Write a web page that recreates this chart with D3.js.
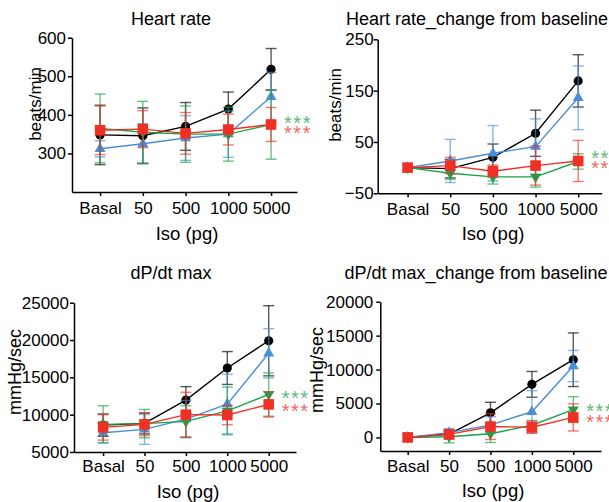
<!DOCTYPE html>
<html>
<head>
<meta charset="utf-8">
<script src="https://cdn.jsdelivr.net/npm/d3@7"></script>
<style>
  body { margin: 0; background: #fff; }
  svg { display: block; font-family: "Liberation Sans", Arial, sans-serif; }
  .axis path, .axis line { stroke: #000; stroke-width: 1.5; }
  .axis text { font-size: 17px; fill: #000; }
</style>
</head>
<body>
<div id="chart"></div>
<script>
const doses = ["Basal", "50", "500", "1000", "5000"];

// Heart rate (beats/min)
const hrBlack = [348, 346, 370, 415, 518];
const hrBlackErr = [77, 72, 62, 44, 54];
const hrBlue = [312, 325, 340, 350, 447];
const hrBlueErr = [21, 52, 58, 60, 63];
const hrGreen = [365, 355, 350, 350, 375];
const hrGreenErr = [89, 80, 73, 70, 90];
const hrRed = [360, 363, 352, 362, 375];
const hrRedErr = [63, 48, 54, 40, 44];

// Heart rate, change from baseline
const hrcBlack = [0, -2, 20, 67, 169];
const hrcBlackErr = [0, 18, 26, 45, 51];
const hrcBlue = [0, 13, 28, 41, 136];
const hrcBlueErr = [0, 42, 54, 54, 62];
const hrcGreen = [0, -11, -18, -18, 12];
const hrcGreenErr = [0, 12, 14, 20, 15];
const hrcRed = [0, 4, -7, 4, 13];
const hrcRedErr = [0, 16, 12, 38, 40];

// dP/dt max (mmHg/sec)
const dpBlack = [8600, 8830, 11960, 16250, 19900];
const dpBlackErr = [1500, 1400, 1800, 2200, 4700];
const dpBlue = [7570, 8030, 9400, 11420, 18220];
const dpBlueErr = [1300, 2000, 2500, 4000, 3300];
const dpGreen = [8700, 8800, 9100, 10500, 12700];
const dpGreenErr = [2500, 1900, 2100, 3200, 2900];
const dpRed = [8300, 8700, 10000, 9950, 11380];
const dpRedErr = [1700, 1500, 3000, 1300, 1700];

// dP/dt max, change from baseline
const dpcBlack = [0, 500, 3630, 7820, 11450];
const dpcBlackErr = [0, 400, 1550, 1900, 3950];
const dpcBlue = [0, 700, 1850, 3780, 10520];
const dpcBlueErr = [0, 600, 1200, 3100, 2300];
const dpcGreen = [0, 100, 550, 1800, 4100];
const dpcGreenErr = [600, 900, 1300, 700, 1900];
const dpcRed = [0, 450, 1600, 1500, 2950];
const dpcRedErr = [0, 700, 1900, 900, 2000];

// significance marks next to the 5000 pg point (green, red), in data units
const sigText = "***";
const hrSig = [391, 365];
const hrcSig = [28, 8];
const dpSig = [12850, 11150];
const dpcSig = [4500, 2950];

const colors = { black: "#000000", blue: "#4a8ed6", green: "#1ba34b", red: "#ee3124" };
const shapes = { black: d3.symbolCircle, blue: d3.symbolTriangle, green: d3.symbolTriangle, red: d3.symbolSquare };
const sizes = { black: 66, blue: 52, green: 52, red: 112 };

const panels = [
    { title: "Heart rate", titleX: 171, titleY: 25, ylabel: "beats/min", ylabelSize: 17, ylabelX: 41, ylabelY: 104,
      x0: 72, x1: 297, pad: 0.632, align: 0.52, yDomain: [200, 600], yRange: [192, 37.7],
      yTicks: [300, 400, 500, 600], yPad: 2, xPad: 6, xlabelX: 187, xlabelY: 240,
      series: [["black", hrBlack, hrBlackErr], ["blue", hrBlue, hrBlueErr], ["green", hrGreen, hrGreenErr], ["red", hrRed, hrRedErr]],
      sig: hrSig },
    { title: "Heart rate_change from baseline", titleX: 477, titleY: 25, ylabel: "beats/min", ylabelSize: 17, ylabelX: 341, ylabelY: 105,
      x0: 377.7, x1: 601.7, pad: 0.626, align: 0.56, yDomain: [-50, 250], yRange: [193.3, 39.3],
      yTicks: [-50, 50, 150, 250], yPad: 0, xPad: 5.5, xlabelX: 493, xlabelY: 240,
      series: [["black", hrcBlack, hrcBlackErr], ["blue", hrcBlue, hrcBlueErr], ["green", hrcGreen, hrcGreenErr], ["red", hrcRed, hrcRedErr]],
      sig: hrcSig },
    { title: "dP/dt max", titleX: 171, titleY: 279, ylabel: "mmHg/sec", ylabelSize: 18, ylabelX: 21, ylabelY: 372,
      x0: 74, x1: 296, pad: 0.681, align: 0.516, yDomain: [5000, 25000], yRange: [452, 302.7],
      yTicks: [5000, 10000, 15000, 20000, 25000], yPad: 1, xPad: 4, xlabelX: 188, xlabelY: 498,
      series: [["black", dpBlack, dpBlackErr], ["blue", dpBlue, dpBlueErr], ["green", dpGreen, dpGreenErr], ["red", dpRed, dpRedErr]],
      sig: dpSig },
    { title: "dP/dt max_change from baseline", titleX: 476, titleY: 279, ylabel: "mmHg/sec", ylabelSize: 18, ylabelX: 323, ylabelY: 370,
      x0: 380.3, x1: 601, pad: 0.665, align: 0.497, yDomain: [-2000, 20000], yRange: [451, 301.7],
      yTicks: [0, 5000, 10000, 15000, 20000], yPad: 3, xPad: 4.5, xlabelX: 493, xlabelY: 497,
      series: [["black", dpcBlack, dpcBlackErr], ["blue", dpcBlue, dpcBlueErr], ["green", dpcGreen, dpcGreenErr], ["red", dpcRed, dpcRedErr]],
      sig: dpcSig }
];

const svg = d3.select("#chart")
    .append("svg")
    .attr("width", 609)
    .attr("height", 502);

function drawPanel(p) {
    const g = svg.append("g");

    const x = d3.scalePoint()
        .domain(doses)
        .range([p.x0, p.x1])
        .padding(p.pad)
        .align(p.align);

    const y = d3.scaleLinear()
        .domain(p.yDomain)
        .range(p.yRange);

    g.append("g")
        .attr("class", "axis")
        .attr("transform", `translate(0,${p.yRange[0]})`)
        .call(d3.axisBottom(x).tickSize(4).tickSizeOuter(0).tickPadding(p.xPad));

    g.append("g")
        .attr("class", "axis")
        .attr("transform", `translate(${p.x0},0)`)
        .call(d3.axisLeft(y).tickValues(p.yTicks).tickFormat(d3.format("d"))
            .tickSize(4).tickSizeOuter(0).tickPadding(p.yPad));

    p.series.forEach(([name, values, errs]) => {
        const col = colors[name];
        const data = doses.map((d, i) => ({ dose: d, v: values[i], e: errs[i] }));
        const withErr = data.filter(d => d.e > 0);

        const eb = g.append("g")
            .attr("stroke", col)
            .attr("stroke-width", 1.4)
            .attr("stroke-opacity", 0.65);

        eb.selectAll(".stem")
            .data(withErr)
            .enter()
            .append("line")
            .attr("x1", d => x(d.dose))
            .attr("x2", d => x(d.dose))
            .attr("y1", d => y(d.v - d.e))
            .attr("y2", d => y(d.v + d.e));

        [-1, 1].forEach(s => {
            eb.selectAll(".cap" + s)
                .data(withErr)
                .enter()
                .append("line")
                .attr("x1", d => x(d.dose) - 5.5)
                .attr("x2", d => x(d.dose) + 5.5)
                .attr("y1", d => y(d.v + s * d.e))
                .attr("y2", d => y(d.v + s * d.e));
        });

        const line = d3.line()
            .x(d => x(d.dose))
            .y(d => y(d.v));

        g.append("path")
            .datum(data)
            .attr("fill", "none")
            .attr("stroke", col)
            .attr("stroke-width", 1.4)
            .attr("d", line);

        const sym = d3.symbol().type(shapes[name]).size(sizes[name]);
        g.selectAll(".m-" + name)
            .data(data)
            .enter()
            .append("path")
            .attr("d", sym)
            .attr("fill", col)
            .attr("transform", d => `translate(${x(d.dose)},${y(d.v)})` + (name === "green" ? " rotate(180)" : ""));
    });

    // significance asterisks
    const sigCols = [colors.green, colors.red];
    p.sig.forEach((v, i) => {
        g.append("text")
            .attr("x", x("5000") + 13)
            .attr("y", y(v) + 11.5)
            .attr("fill", sigCols[i])
            .attr("fill-opacity", 0.75)
            .style("font-size", "20px")
            .style("letter-spacing", "1.5px")
            .text(sigText);
    });

    g.append("text")
        .attr("x", p.titleX)
        .attr("y", p.titleY)
        .attr("text-anchor", "middle")
        .style("font-size", "18px")
        .text(p.title);

    g.append("text")
        .attr("x", p.xlabelX)
        .attr("y", p.xlabelY)
        .attr("text-anchor", "middle")
        .style("font-size", "18.5px")
        .text("Iso (pg)");

    g.append("text")
        .attr("transform", `translate(${p.ylabelX},${p.ylabelY}) rotate(-90)`)
        .attr("text-anchor", "middle")
        .style("font-size", p.ylabelSize + "px")
        .text(p.ylabel);
}

panels.forEach(drawPanel);
</script>
</body>
</html>
